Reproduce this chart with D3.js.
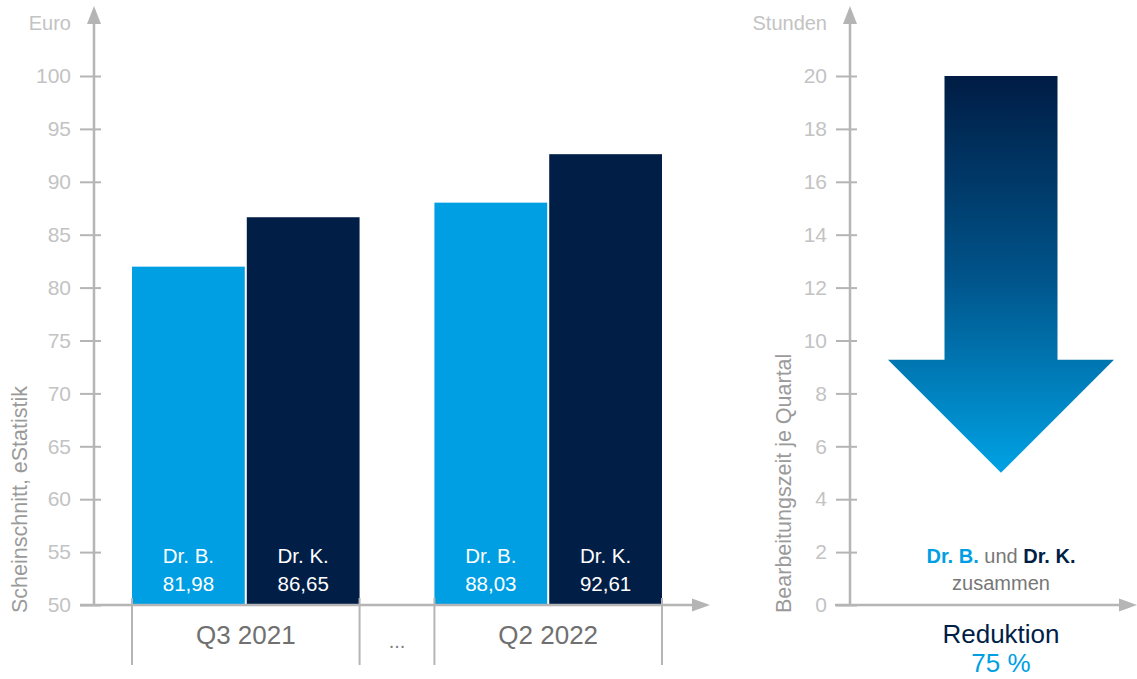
<!DOCTYPE html>
<html><head><meta charset="utf-8">
<script src="https://cdn.jsdelivr.net/npm/d3@7"></script>
<style>body{margin:0;background:#fff}svg{display:block;font-family:"Liberation Sans",Arial,sans-serif}</style>
</head><body><svg id="c" width="1137" height="679"></svg>
<script>
const quarters = ["Q3 2021", "Q2 2022"];
const doctors = ["Dr. B.", "Dr. K."];
const valuesB = [81.98, 88.03];
const valuesK = [86.65, 92.61];
const euroTicks = [50,55,60,65,70,75,80,85,90,95,100];
const hourTicks = [0,2,4,6,8,10,12,14,16,18,20];
const hoursBefore = 20, hoursAfter = 5;
const reductionLabel = "75 %";

const C_LIGHT = "#009fe3", C_DARK = "#001e46", C_AXIS = "#b5b5b5", C_TICK = "#c3c3c3";
const svg = d3.select("#c");
const defs = svg.append("defs");

// ---------- LEFT CHART ----------
const y = d3.scaleLinear().domain([50,100]).range([605,76]);
const x0 = d3.scaleBand().domain(quarters).range([132,662]).paddingInner(0.2475).paddingOuter(0);
const x1 = d3.scaleBand().domain(doctors).range([0, x0.bandwidth()]).paddingInner(0.0175);
const colors = d3.scaleOrdinal().domain(doctors).range([C_LIGHT, C_DARK]);
const rows = quarters.map((q,i)=>({q, vals:[{d:doctors[0],v:valuesB[i]},{d:doctors[1],v:valuesK[i]}]}));

const g = svg.append("g");
rows.forEach(r=>{
  r.vals.forEach(o=>{
    const bx = x0(r.q)+x1(o.d);
    g.append("rect").attr("x",bx).attr("y",y(o.v)).attr("width",x1.bandwidth())
      .attr("height",y(50)-y(o.v)).attr("fill",colors(o.d));
    g.append("text").attr("x",bx+x1.bandwidth()/2).attr("y",563).attr("text-anchor","middle")
      .attr("fill","#fff").attr("font-size",20.5).text(o.d);
    g.append("text").attr("x",bx+x1.bandwidth()/2).attr("y",591).attr("text-anchor","middle")
      .attr("fill","#fff").attr("font-size",20.5).text(d3.format(".2f")(o.v).replace(".",","));
  });
});

function yAxis(scale, ax, ticks){
  const a = svg.append("g").attr("transform",`translate(${ax},0)`)
    .call(d3.axisLeft(scale).tickValues(ticks).tickSize(14).tickPadding(9).tickFormat(d=>d));
  a.select(".domain").remove();
  a.selectAll(".tick line").attr("x1",7).attr("stroke",C_AXIS).attr("stroke-width",2);
  a.selectAll(".tick text").attr("fill",C_TICK).attr("font-size",21).attr("font-family","Liberation Sans, Arial, sans-serif");
  svg.append("line").attr("x1",ax).attr("x2",ax).attr("y1",605).attr("y2",22).attr("stroke",C_AXIS).attr("stroke-width",2.5);
  svg.append("path").attr("d",`M${ax-7},24 L${ax},6 L${ax+7},24 Z`).attr("fill",C_AXIS);
}
yAxis(y, 94, euroTicks);
svg.append("line").attr("x1",80).attr("x2",694).attr("y1",605).attr("y2",605).attr("stroke",C_AXIS).attr("stroke-width",2.5);
svg.append("path").attr("d","M692,598.5 L710,605 L692,611.5 Z").attr("fill",C_AXIS);

// group separators
const seps = [];
quarters.forEach(q=>{seps.push(x0(q)); seps.push(x0(q)+x0.bandwidth());});
seps.forEach(sx=>svg.append("line").attr("x1",sx).attr("x2",sx).attr("y1",598).attr("y2",665).attr("stroke",C_AXIS).attr("stroke-width",2));
quarters.forEach(q=>svg.append("text").attr("x",x0(q)+x0.bandwidth()/2).attr("y",644).attr("text-anchor","middle")
  .attr("fill","#707070").attr("font-size",26).text(q));
svg.append("text").attr("x",(seps[1]+seps[2])/2).attr("y",648).attr("text-anchor","middle").attr("fill","#808080").attr("font-size",20).text("...");

svg.append("text").attr("x",71).attr("y",30).attr("text-anchor","end").attr("fill",C_TICK).attr("font-size",20).text("Euro");
svg.append("text").attr("transform","translate(27,613) rotate(-90)").attr("fill","#9a9a9a").attr("font-size",21.5).text("Scheinschnitt, eStatistik");

// ---------- RIGHT CHART ----------
const yh = d3.scaleLinear().domain([0,20]).range([605,76]);
yAxis(yh, 850, hourTicks);
svg.append("line").attr("x1",835).attr("x2",1121).attr("y1",605).attr("y2",605).attr("stroke",C_AXIS).attr("stroke-width",2.5);
svg.append("path").attr("d","M1119,598.5 L1137,605 L1119,611.5 Z").attr("fill",C_AXIS);
svg.append("text").attr("x",827).attr("y",30).attr("text-anchor","end").attr("fill",C_TICK).attr("font-size",20).text("Stunden");
svg.append("text").attr("transform","translate(791,613) rotate(-90)").attr("fill","#9a9a9a").attr("font-size",21.5).text("Bearbeitungszeit je Quartal");

const grad = defs.append("linearGradient").attr("id","ag").attr("gradientUnits","userSpaceOnUse")
  .attr("x1",0).attr("x2",0).attr("y1",yh(hoursBefore)).attr("y2",yh(hoursAfter));
grad.append("stop").attr("offset",0).attr("stop-color","#001c44");
grad.append("stop").attr("offset",0.5).attr("stop-color","#005389");
grad.append("stop").attr("offset",1).attr("stop-color","#00a2e4");
const cx = 1001, shaftHalf = 56.5, headHalf = 113;
const headBase = yh(hoursAfter) - headHalf;
svg.append("path").attr("fill","url(#ag)").attr("d",
  `M${cx-shaftHalf},${yh(hoursBefore)} L${cx+shaftHalf},${yh(hoursBefore)} L${cx+shaftHalf},${headBase} L${cx+headHalf},${headBase} L${cx},${yh(hoursAfter)} L${cx-headHalf},${headBase} L${cx-shaftHalf},${headBase} Z`);

const t1 = svg.append("text").attr("x",cx).attr("y",563).attr("text-anchor","middle").attr("font-size",20);
t1.append("tspan").attr("fill",C_LIGHT).attr("font-weight","bold").text(doctors[0]);
t1.append("tspan").attr("fill","#777").text(" und ");
t1.append("tspan").attr("fill",C_DARK).attr("font-weight","bold").text(doctors[1]);
svg.append("text").attr("x",cx).attr("y",590).attr("text-anchor","middle").attr("font-size",20).attr("fill","#777").text("zusammen");
svg.append("text").attr("x",cx).attr("y",643).attr("text-anchor","middle").attr("font-size",26).attr("fill",C_DARK).text("Reduktion");
svg.append("text").attr("x",cx).attr("y",672).attr("text-anchor","middle").attr("font-size",26).attr("fill",C_LIGHT).text(reductionLabel);
</script></body></html>
